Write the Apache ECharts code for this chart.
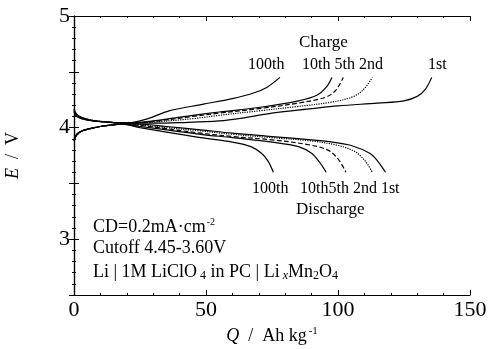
<!DOCTYPE html>
<html>
<head>
<meta charset="utf-8">
<script src="https://cdn.jsdelivr.net/npm/echarts@6/dist/echarts.min.js"></script>
<style>
  html, body { margin: 0; padding: 0; background: #fff; }
  #chart { width: 488px; height: 349px; }
</style>
</head>
<body>
<div id="chart"></div>
<script>
// Capacity Q (Ah/kg) vs. cell voltage E (V), [Q, E] pairs per cycle.
const charge1st = [[0,4.17],[1,4.12],[3,4.09],[6,4.07],[10,4.055],[15,4.045],[20,4.04],[30,4.04],[40,4.045],[55,4.06],[65,4.09],[75,4.13],[90,4.17],[100,4.195],[115,4.22],[125,4.24],[130,4.28],[133,4.34],[135.5,4.45]];
const charge2nd = [[0,4.16],[1,4.12],[3,4.09],[6,4.07],[12,4.05],[20,4.04],[30,4.05],[45,4.08],[55,4.11],[70,4.15],[85,4.19],[98,4.23],[106,4.28],[110,4.35],[113,4.45]];
const charge5th = [[0,4.15],[1,4.11],[3,4.08],[6,4.065],[12,4.05],[20,4.04],[30,4.055],[45,4.10],[55,4.13],[70,4.17],[85,4.22],[95,4.27],[99,4.33],[102,4.45]];
const charge10th = [[0,4.15],[1,4.11],[3,4.08],[6,4.065],[12,4.05],[20,4.04],[30,4.06],[45,4.11],[55,4.14],[70,4.18],[85,4.24],[92,4.29],[95.5,4.36],[97.7,4.45]];
const charge100th = [[0,4.14],[1,4.10],[3,4.08],[6,4.065],[12,4.05],[20,4.04],[28,4.08],[36,4.15],[49,4.21],[60,4.26],[68,4.31],[73,4.36],[78,4.45]];

const discharge1st = [[0,3.88],[1,3.93],[3,3.97],[6,3.99],[10,4.01],[18,4.03],[25,4.03],[35,4.01],[48,3.98],[60,3.95],[75,3.92],[90,3.89],[98,3.87],[105,3.84],[112,3.77],[115,3.70],[118,3.60]];
const discharge2nd = [[0,3.88],[1,3.93],[3,3.97],[6,3.99],[10,4.01],[18,4.03],[25,4.025],[35,4.0],[48,3.97],[60,3.94],[75,3.91],[90,3.88],[100,3.84],[106,3.79],[110,3.71],[113,3.60]];
const discharge5th = [[0,3.89],[1,3.94],[3,3.97],[6,3.99],[10,4.01],[18,4.03],[25,4.02],[35,3.99],[48,3.95],[60,3.92],[75,3.89],[88,3.85],[96,3.80],[100,3.72],[103,3.60]];
const discharge10th = [[0,3.89],[1,3.94],[3,3.97],[6,3.99],[10,4.01],[18,4.03],[25,4.01],[35,3.98],[48,3.94],[60,3.91],[75,3.87],[85,3.83],[90,3.77],[93,3.69],[95.5,3.60]];
const discharge100th = [[0,3.90],[1,3.94],[3,3.97],[6,3.99],[10,4.01],[18,4.03],[25,4.0],[35,3.96],[48,3.91],[60,3.87],[67,3.83],[71,3.77],[73.5,3.70],[75.5,3.60]];

const xTicks = [0, 50, 100, 150];
const yTickLabels = [3, 4, 5];

const serif = '"Liberation Serif", "DejaVu Serif", serif';
const chart = echarts.init(document.getElementById('chart'), null, { renderer: 'canvas' });

function curve(data, type) {
  return {
    type: 'line', data: data, showSymbol: false, smooth: 0.35, clip: true,
    lineStyle: { color: '#000', width: 1.2, type: type }
  };
}

const axisLine = { show: true, lineStyle: { color: '#000', width: 1.2 } };
const tick = { show: true, inside: true, length: 5, lineStyle: { color: '#000' } };
const minor = { show: true, splitNumber: 5, length: 2, lineStyle: { color: '#000' } };

chart.setOption({
  animation: false,
  grid: { left: 74, right: 18, top: 16, bottom: 54, containLabel: false, outerBoundsMode: 'none' },
  xAxis: [{
    type: 'value', min: 0, max: 150, interval: 50,
    axisLine: axisLine, axisTick: tick, minorTick: minor, splitLine: { show: false },
    axisLabel: { color: '#000', fontFamily: serif, fontSize: 22, margin: 4,
      formatter: v => xTicks.includes(v) ? String(v) : '' },
    name: '{q|Q}  /  Ah kg{sup|-1}', nameLocation: 'middle', nameGap: 31,
    nameTextStyle: { color: '#000', fontFamily: serif, fontSize: 18,
      rich: { q: { fontStyle: 'italic', fontFamily: serif, fontSize: 18 },
              sup: { fontSize: 11, fontFamily: serif, verticalAlign: 'top', padding: [0, 0, 10, 2] } } }
  }, {
    type: 'value', min: 0, max: 150, interval: 50, position: 'top',
    axisLine: axisLine, axisTick: tick, minorTick: minor, splitLine: { show: false },
    axisLabel: { show: false }
  }],
  yAxis: [{
    type: 'value', min: 2.5, max: 5, interval: 0.5,
    axisLine: axisLine, axisTick: tick, minorTick: minor, splitLine: { show: false },
    axisLabel: { color: '#000', fontFamily: serif, fontSize: 22, margin: 4,
      formatter: v => yTickLabels.includes(v) ? String(v) : '' },
    name: '{e|E}  /  V', nameLocation: 'middle', nameGap: 52, nameRotate: 90,
    nameTextStyle: { color: '#000', fontFamily: serif, fontSize: 18,
      rich: { e: { fontStyle: 'italic', fontFamily: serif, fontSize: 18 } } }
  }, {
    type: 'value', min: 2.5, max: 5, interval: 0.5, position: 'right',
    axisLine: axisLine, axisTick: tick, minorTick: minor, splitLine: { show: false },
    axisLabel: { show: false }
  }],
  series: [
    curve(charge1st, 'solid'), curve(charge2nd, 'dotted'), curve(charge5th, 'dashed'),
    curve(charge10th, 'solid'), curve(charge100th, 'solid'),
    curve(discharge1st, 'solid'), curve(discharge2nd, 'dotted'), curve(discharge5th, 'dashed'),
    curve(discharge10th, 'solid'), curve(discharge100th, 'solid')
  ],
  graphic: [
    { type: 'text', left: 299, top: 34, style: { text: 'Charge', font: '17px ' + serif, fill: '#000' } },
    { type: 'text', left: 248, top: 57, style: { text: '100th', font: '16px ' + serif, fill: '#000' } },
    { type: 'text', left: 302, top: 57, style: { text: '10th 5th 2nd', font: '16px ' + serif, fill: '#000' } },
    { type: 'text', left: 428, top: 57, style: { text: '1st', font: '16px ' + serif, fill: '#000' } },
    { type: 'text', left: 252, top: 181, style: { text: '100th', font: '16px ' + serif, fill: '#000' } },
    { type: 'text', left: 300, top: 181, style: { text: '10th5th 2nd 1st', font: '16px ' + serif, fill: '#000' } },
    { type: 'text', left: 296, top: 201, style: { text: 'Discharge', font: '17px ' + serif, fill: '#000' } },
    { type: 'text', left: 93, top: 217, style: {
        text: 'CD=0.2mA·cm{sup|-2}', font: '18px ' + serif, fill: '#000',
        rich: { sup: { fontSize: 10, fontFamily: serif, verticalAlign: 'top', padding: [0, 0, 10, 1] } } } },
    { type: 'text', left: 93, top: 239, style: { text: 'Cutoff 4.45-3.60V', font: '18px ' + serif, fill: '#000' } },
    { type: 'text', left: 93, top: 263, style: {
        text: 'Li | 1M LiClO{sub| 4} in PC | Li{subi| x}Mn{sub|2}O{sub|4}', font: '18px ' + serif, fill: '#000',
        rich: {
          sub: { fontSize: 12, fontFamily: serif, verticalAlign: 'bottom', padding: [8, 0, 0, 0] },
          subi: { fontSize: 12, fontFamily: serif, fontStyle: 'italic', verticalAlign: 'bottom', padding: [8, 0, 0, 0] }
        } } }
  ]
});
</script>
</body>
</html>
